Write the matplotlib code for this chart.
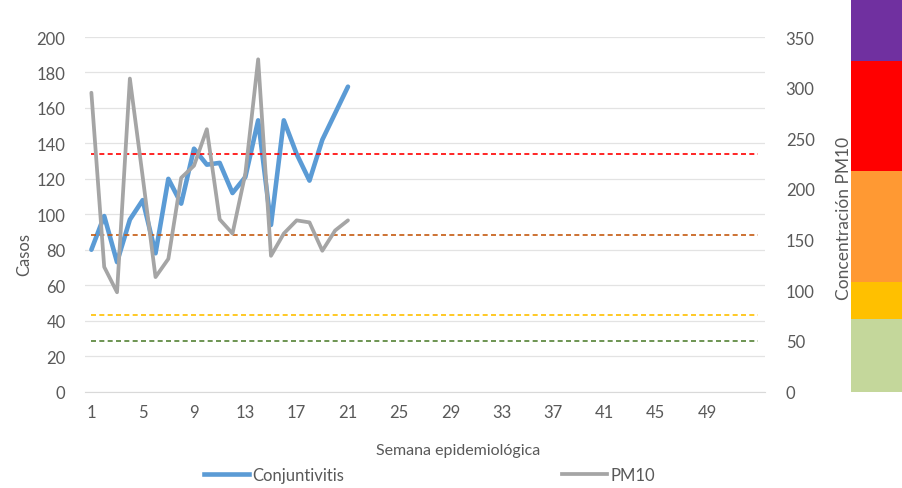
import matplotlib
matplotlib.use("Agg")
import matplotlib.pyplot as plt
from matplotlib.lines import Line2D

plt.rcParams["font.family"] = ["Lato", "DejaVu Sans"]

# data
weeks = list(range(1, 22))
conjuntivitis = [80, 99, 73, 97, 108, 78, 120, 106, 137, 128, 129,
                 112, 121, 153, 94, 153, 134, 119, 142, 157, 172]
pm10 = [295, 123, 98, 309, 212, 113, 131, 211, 223, 259, 170,
        156, 215, 328, 134, 156, 169, 167, 139, 159, 169]

all_weeks = list(range(1, 54))
x_ticks = list(range(1, 50, 4))

# PM10 reference levels (right axis)
thresholds = [235, 155, 76, 50]
threshold_colors = ["#FF0000", "#C55A11", "#FFC000", "#548235"]

# colour scale at the right
band_edges = [0, 72, 109, 218, 327, 388]
band_colors = ["#C4D79B", "#FFC000", "#FF9933", "#FF0000", "#7030A0"]

grey_text = "#595959"

fig = plt.figure(figsize=(9.02, 4.89), dpi=100)
ax = fig.add_axes([0.0942, 0.1973, 0.7538, 0.7249])
ax2 = ax.twinx()

ax.set_xlim(0.5, 53.5)
ax.set_ylim(0, 200)
ax.set_yticks(range(0, 201, 20))
ax.set_xticks(x_ticks)
ax.grid(axis="y", color="#E3E3E3", linewidth=0.9)
ax.set_axisbelow(True)
ax.plot(weeks, conjuntivitis, color="#5B9BD5", linewidth=3.3,
        solid_capstyle="round", solid_joinstyle="round", zorder=3)

ax2.set_ylim(0, 350)
ax2.set_yticks(range(0, 351, 50))
for v, c in zip(thresholds, threshold_colors):
    ax2.hlines(v, all_weeks[0], all_weeks[-1], colors=c, linestyles=(0, (3, 2)),
               linewidth=1.2)
ax2.plot(weeks, pm10, color="#A5A5A5", linewidth=2.7,
         solid_capstyle="round", solid_joinstyle="round")

for a in (ax, ax2):
    for s in a.spines.values():
        s.set_visible(False)
    a.tick_params(length=0, labelsize=12, labelcolor=grey_text)
ax.spines["bottom"].set_visible(True)
ax.spines["bottom"].set_color("#D9D9D9")
ax.tick_params(axis="y", pad=14)
ax.tick_params(axis="x", pad=9)
ax2.tick_params(axis="y", pad=15)

ax.set_xlabel("Semana epidemiológica", fontsize=11.5, color=grey_text)
ax.xaxis.set_label_coords(0.549, -0.145)
ax.set_ylabel("Casos", fontsize=12, color=grey_text)
ax.yaxis.set_label_coords(-0.078, 0.39)
ax2.set_ylabel("Concentración PM10", fontsize=12.5, color=grey_text)
ax2.yaxis.set_label_coords(1.104, 0.49)

# colour scale bar
cax = fig.add_axes([0.9435, 0.1963, 0.0565, 0.8037])
for lo, hi, c in zip(band_edges[:-1], band_edges[1:], band_colors):
    cax.bar(0, hi - lo, bottom=lo, width=1, color=c)
cax.set_xlim(-0.5, 0.5)
cax.set_ylim(band_edges[0], band_edges[-1])
cax.axis("off")

handles = [Line2D([], [], color="#5B9BD5", linewidth=3.3),
           Line2D([], [], color="#A5A5A5", linewidth=2.7)]
fig.legend(handles, ["Conjuntivitis", "PM10"], loc="center",
           bbox_to_anchor=(0.476, 0.027), ncol=2, frameon=False,
           fontsize=12, labelcolor=grey_text, handlelength=2.7,
           handletextpad=0.2, columnspacing=13.1)

fig.savefig("out.png", dpi=100)
